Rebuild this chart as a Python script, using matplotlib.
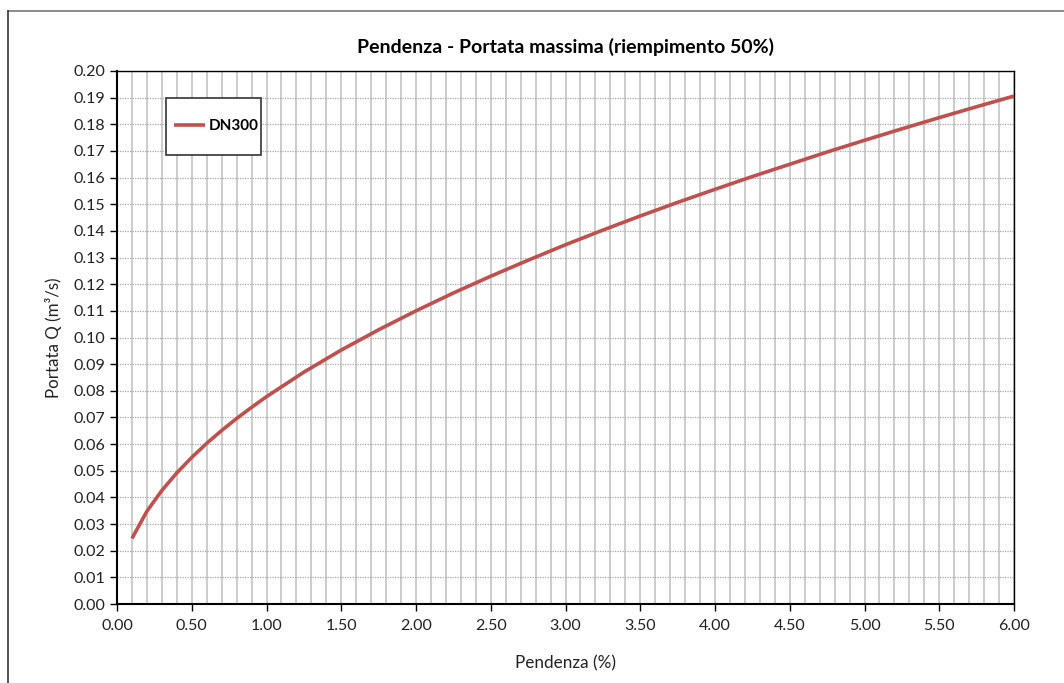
import matplotlib
matplotlib.use("Agg")
import matplotlib.pyplot as plt
from matplotlib.lines import Line2D
from matplotlib.patches import Rectangle
from matplotlib.ticker import MultipleLocator, FormatStrFormatter

# Data
pendenza = [0.1, 0.2, 0.3, 0.4, 0.5, 0.6, 0.7, 0.8, 0.9, 1.0,
            1.25, 1.5, 1.75, 2.0, 2.25, 2.5, 2.75, 3.0, 3.25, 3.5,
            3.75, 4.0, 4.25, 4.5, 4.75, 5.0, 5.25, 5.5, 5.75, 6.0]
portata = [0.0246, 0.0348, 0.0426, 0.0492, 0.0550, 0.0603, 0.0651, 0.0696, 0.0738, 0.0778,
           0.0870, 0.0953, 0.1029, 0.1100, 0.1167, 0.1230, 0.1290, 0.1348, 0.1403, 0.1456,
           0.1507, 0.1556, 0.1604, 0.1650, 0.1696, 0.1740, 0.1783, 0.1825, 0.1866, 0.1906]
series_label = "DN300"
title = "Pendenza - Portata massima (riempimento 50%)"
xlabel = "Pendenza (%)"
ylabel = "Portata Q (m³/s)"

plt.rcParams['font.family'] = ['Lato', 'DejaVu Sans']

W, H = 1064, 683
fig = plt.figure(figsize=(W / 100, H / 100), dpi=100)
AX_L, AX_R, AX_T, AX_B = 117, 1014, 71, 604
ax = fig.add_axes([AX_L / W, 1 - AX_B / H, (AX_R - AX_L) / W, (AX_B - AX_T) / H])

ax.plot(pendenza, portata, color='#c0504d', lw=2.6, label=series_label,
        solid_capstyle='butt', zorder=3)

ax.set_xlim(0, 6)
ax.set_ylim(0, 0.20)
ax.xaxis.set_major_locator(MultipleLocator(0.5))
ax.xaxis.set_minor_locator(MultipleLocator(0.1))
ax.yaxis.set_major_locator(MultipleLocator(0.01))
ax.xaxis.set_major_formatter(FormatStrFormatter('%.2f'))
ax.yaxis.set_major_formatter(FormatStrFormatter('%.2f'))

ax.grid(which='minor', axis='x', color='#c8c8c8', lw=1.3, ls='-')
ax.grid(which='major', axis='x', color='#c8c8c8', lw=1.3, ls='-')
ax.grid(which='major', axis='y', color='#a8a8a8', lw=0.9, ls=(0, (1, 1)))
ax.set_axisbelow(True)

ax.tick_params(which='major', direction='out', length=5, width=1, color='black',
               labelsize=11.5, labelcolor='#222222')
ax.tick_params(which='minor', length=0)
ax.tick_params(axis='x', pad=6)

for side in ['left', 'bottom']:
    ax.spines[side].set_linewidth(1.5)
for side in ['top', 'right']:
    ax.spines[side].set_linewidth(1.0)
    ax.spines[side].set_color('black')

ax.set_xlabel(xlabel, fontsize=12.3, color='#222222', labelpad=16)
ax.set_ylabel(ylabel, fontsize=12.2, color='#222222', labelpad=8)
fig.text((AX_L + AX_R) / 2 / W, 1 - 47 / H, title, ha='center', va='center',
         fontsize=14, fontweight='bold', color='black')

# Legend box (drawn in axes fraction coordinates)
def ax_frac(px, py):
    return ((px - AX_L) / (AX_R - AX_L), (AX_B - py) / (AX_B - AX_T))

x0, y1 = ax_frac(166, 98)
x1, y0 = ax_frac(261, 155)
ax.add_patch(Rectangle((x0, y0), x1 - x0, y1 - y0, transform=ax.transAxes,
                       facecolor='white', edgecolor='#333333', lw=1.2, zorder=5))
lx, ly = ax_frac(174, 126.5)
leg = ax.legend(loc='center left', bbox_to_anchor=(lx, ly), frameon=False,
                prop={'weight': 'bold', 'size': 11}, handlelength=2.0,
                handletextpad=0.25, borderpad=0, borderaxespad=0)
leg.set_zorder(6)

# Figure border (top and left edges visible)
fig.add_artist(Line2D([8 / W, 1.0], [1 - 11 / H, 1 - 11 / H], color='#777777', lw=1.2,
                      transform=fig.transFigure))
fig.add_artist(Line2D([8 / W, 8 / W], [1 - 11 / H, 0.0], color='#333333', lw=1.2,
                      transform=fig.transFigure))

fig.savefig('out.png', dpi=100)
